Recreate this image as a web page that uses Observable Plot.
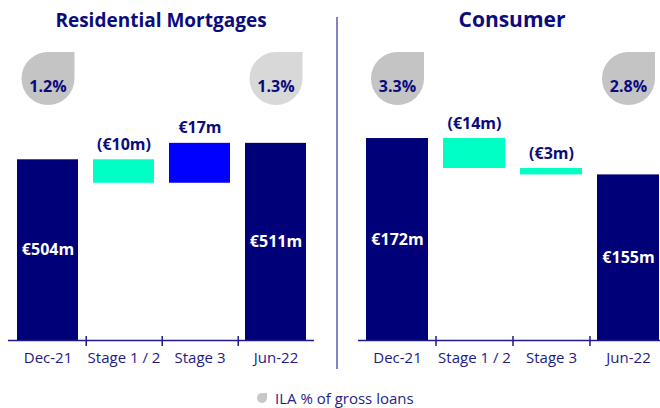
<!DOCTYPE html>
<html>
<head>
<meta charset="utf-8">
<script src="https://cdn.jsdelivr.net/npm/d3@7"></script>
<script src="https://cdn.jsdelivr.net/npm/@observablehq/plot@0.6"></script>
<style>
  html, body { margin: 0; padding: 0; background: #fff; }
  body { width: 660px; height: 408px; position: relative; overflow: hidden; font-family: "Open Sans", sans-serif; }
  .panel { position: absolute; top: 0; }
  .panel svg { max-width: none !important; }
  .title { position: absolute; text-align: center; font-weight: 700; line-height: 30px; color: #0b0b7e; }
  .divider { position: absolute; left: 336px; top: 17px; width: 2px; height: 352px; background: #8383c2; }
  .legend { position: absolute; left: 257px; top: 388px; font-size: 15px; line-height: 20px; color: #23238a; display: flex; align-items: center; gap: 8px; }
  .legend .drop { width: 10px; height: 10px; background: #c8c8c8; border-radius: 50% 0 50% 50%; }
</style>
</head>
<body>
<div id="left" class="panel" style="left:0;width:330px"></div>
<div id="right" class="panel" style="left:330px;width:345px"></div>
<div class="title" style="left:8px;width:306px;top:5px;font-size:19px">Residential Mortgages</div>
<div class="title" style="left:358px;width:308px;top:4px;font-size:21px">Consumer</div>
<div class="divider"></div>
<div class="legend"><div class="drop"></div><span>ILA % of gross loans</span></div>
<script>
// ---- data ----
const categories = ["Dec-21", "Stage 1 / 2", "Stage 3", "Jun-22"];
const mortgageValues = [504, -10, 17, 511];
const consumerValues = [172, -14, -3, 155];
const ilaCategories = ["Dec-21", "Jun-22"];
const mortgageILA = ["1.2%", "1.3%"];
const consumerILA = ["3.3%", "2.8%"];
const mortgageDomain = [427, 525];
const consumerDomain = [77.6, 185.1];

const NAVY = "#000078";
const TEXT = "#0b0b7e";
const AXIS = "#1c1c84";
const kindColor = {total: NAVY, decrease: "#00ffc4", increase: "#0000ff"};

function waterfall(values, domain) {
  let running = 0;
  return values.map((v, i) => {
    const isTotal = i === 0 || i === values.length - 1;
    if (isTotal) {
      running = v;
      return {category: categories[i], y1: domain[0], y2: v, kind: "total",
              label: `€${v}m`, top: v};
    }
    const start = running, end = running + v;
    running = end;
    return {category: categories[i], y1: start, y2: end, kind: v < 0 ? "decrease" : "increase",
            label: v < 0 ? `(€${-v}m)` : `€${v}m`, top: Math.max(start, end)};
  });
}

const teardrop = {
  draw(context, size) {
    const r = Math.sqrt(size / Math.PI);
    context.moveTo(0, -r);
    context.lineTo(r, -r);
    context.lineTo(r, 0);
    context.arc(0, 0, r, 0, 1.5 * Math.PI);
    context.closePath();
  }
};

function panel(values, ila, ilaFills, domain, opts) {
  const data = waterfall(values, domain);
  const ilaData = ilaCategories.map((c, i) => ({category: c, text: ila[i], fill: ilaFills[i]}));
  const W = opts.width - opts.marginLeft - opts.marginRight;
  const step = W / 4; // band step with paddingInner 0.2, paddingOuter 0.1
  return Plot.plot({
    width: opts.width,
    height: 380,
    marginTop: 110,
    marginBottom: 40,
    marginLeft: opts.marginLeft,
    marginRight: opts.marginRight,
    style: {fontFamily: "Open Sans", background: "transparent", overflow: "visible", maxWidth: "none"},
    x: {domain: categories, paddingInner: 0.2, paddingOuter: 0.1, axis: null},
    y: {domain, axis: null},
    color: {type: "identity"},
    marks: [
      Plot.barY(data, {x: "category", y1: "y1", y2: "y2", fill: d => kindColor[d.kind]}),
      Plot.ruleY([domain[0]], {stroke: AXIS, strokeWidth: 1.5}),
      Plot.ruleX(categories.slice(0, -1), {x: d => d, y1: domain[0], y2: domain[0], dx: step / 2,
        insetTop: -4, insetBottom: -6, stroke: AXIS, strokeWidth: 1.5}),
      Plot.text(categories, {x: d => d, frameAnchor: "bottom", dy: 22, text: d => d,
        fontSize: 15, fill: AXIS}),
      Plot.text(data.filter(d => d.kind === "total"), {x: "category", y: d => (d.y1 + d.y2) / 2,
        text: "label", fill: "white", fontSize: 16, fontWeight: 700}),
      Plot.text(data.filter(d => d.kind !== "total"), {x: "category", y: "top", dy: -15,
        text: "label", fill: TEXT, fontSize: 16, fontWeight: 700}),
      Plot.dot(ilaData, {x: "category", frameAnchor: "top", dy: -32, r: 26.5, symbol: teardrop,
        fill: "fill", stroke: null}),
      Plot.text(ilaData, {x: "category", frameAnchor: "top", dy: -30, text: "text",
        fill: TEXT, fontSize: 16, fontWeight: 700})
    ]
  });
}

document.getElementById("left").appendChild(
  panel(mortgageValues, mortgageILA, ["#c4c4c4", "#d8d8d8"], mortgageDomain,
        {width: 330, marginLeft: 8, marginRight: 16}));
document.getElementById("right").appendChild(
  panel(consumerValues, consumerILA, ["#c4c4c4", "#c4c4c4"], consumerDomain,
        {width: 345, marginLeft: 28, marginRight: 9}));
</script>
</body>
</html>
